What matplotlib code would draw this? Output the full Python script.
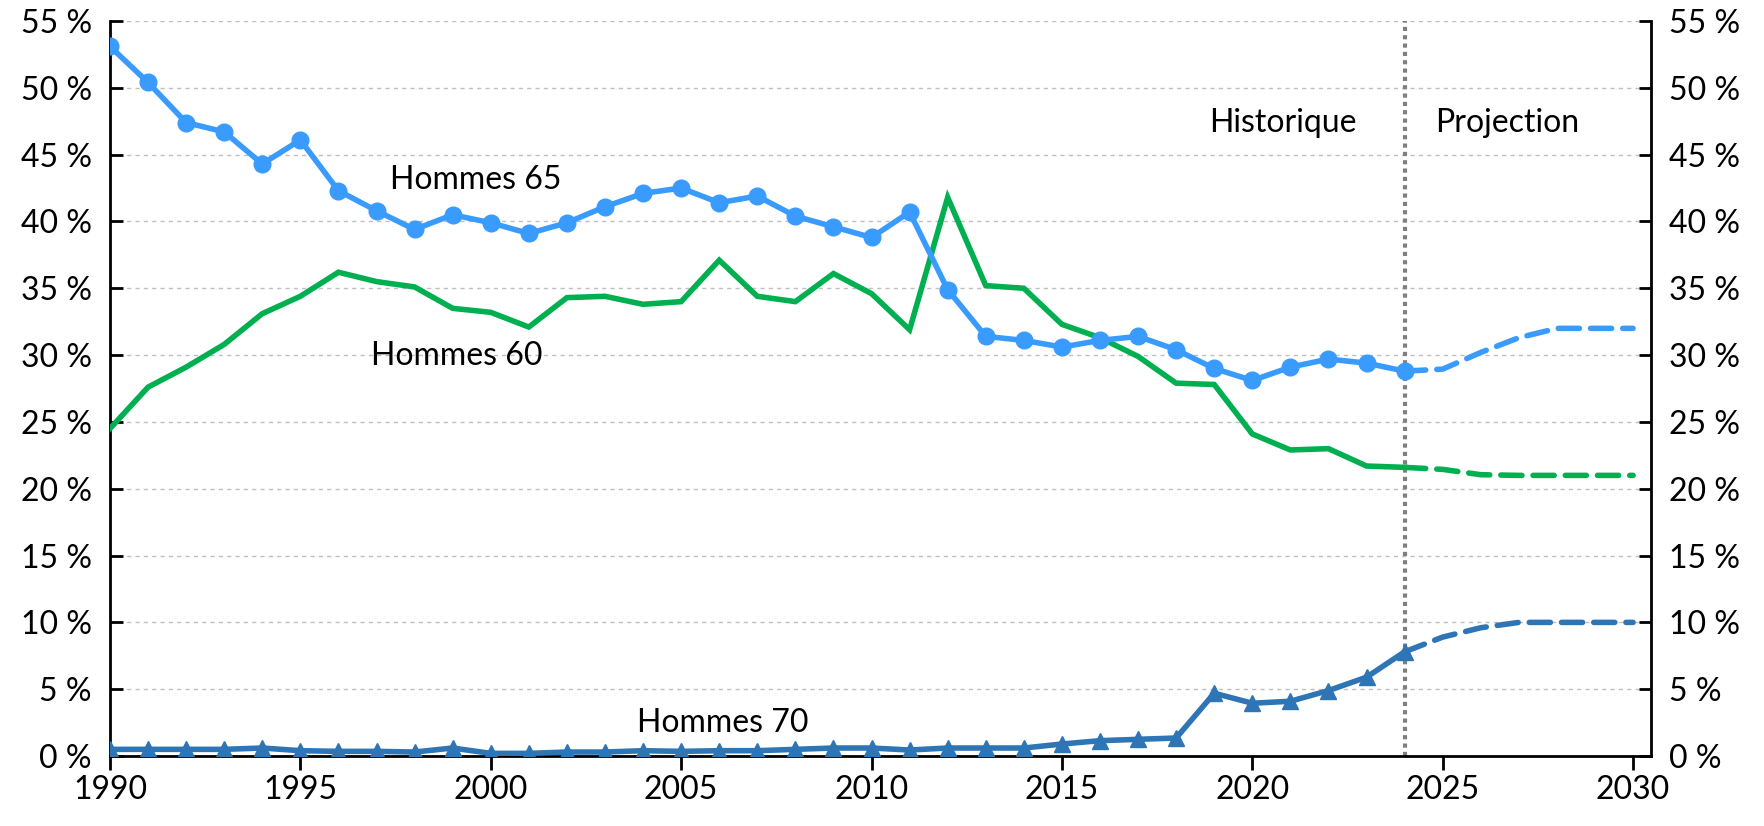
import matplotlib
matplotlib.use("Agg")
import matplotlib.pyplot as plt
from matplotlib.ticker import FuncFormatter

years_hist = list(range(1990, 2025))
years_proj = list(range(2024, 2031))

h65_hist = [53.1, 50.4, 47.4, 46.7, 44.3, 46.1, 42.3, 40.8, 39.4, 40.5,
            39.9, 39.1, 39.9, 41.1, 42.1, 42.5, 41.4, 41.9, 40.4, 39.6,
            38.8, 40.7, 34.9, 31.4, 31.1, 30.6, 31.1, 31.4, 30.4, 29.0,
            28.1, 29.1, 29.7, 29.4, 28.8]
h65_proj = [28.8, 28.95, 30.2, 31.3, 32.0, 32.0, 32.0]

h60_hist = [24.5, 27.6, 29.1, 30.8, 33.1, 34.4, 36.2, 35.5, 35.1, 33.5,
            33.2, 32.1, 34.3, 34.4, 33.8, 34.0, 37.1, 34.4, 34.0, 36.1,
            34.6, 31.9, 41.8, 35.2, 35.0, 32.3, 31.3, 29.9, 27.9, 27.8,
            24.1, 22.9, 23.0, 21.7, 21.6]
h60_proj = [21.6, 21.45, 21.05, 21.0, 21.0, 21.0, 21.0]

h70_hist = [0.5, 0.5, 0.5, 0.5, 0.6, 0.4, 0.35, 0.35, 0.3, 0.6,
            0.2, 0.2, 0.3, 0.3, 0.4, 0.35, 0.4, 0.4, 0.5, 0.6,
            0.6, 0.45, 0.6, 0.6, 0.6, 0.9, 1.15, 1.25, 1.35, 4.7,
            3.95, 4.1, 4.9, 5.9, 7.8]
h70_proj = [7.8, 8.9, 9.6, 10.0, 10.0, 10.0, 10.0]

c65 = "#3A9BFF"
c60 = "#00B050"
c70 = "#2E75B6"

FONT = ["Lato", "DejaVu Sans"]
plt.rcParams["font.family"] = FONT
FS = 23

fig = plt.figure(figsize=(17.65, 8.26), dpi=100)
ax = fig.add_axes([0.0623, 0.0847, 0.9354 - 0.0623, 0.9746 - 0.0847])

lw = 4.0
dash = (0, (3.8, 2.0))
ax.plot(years_hist, h60_hist, color=c60, lw=lw, solid_joinstyle="miter", zorder=3)
ax.plot(years_proj, h60_proj, color=c60, lw=lw, ls=dash, dash_capstyle="round", zorder=3)

ax.plot(years_hist, h65_hist, color=c65, lw=lw, marker="o", markersize=12, zorder=4)
ax.plot(years_proj, h65_proj, color=c65, lw=lw, ls=dash, dash_capstyle="round", zorder=4)

ax.plot(years_hist, h70_hist, color=c70, lw=lw, marker="^", markersize=12, zorder=4)
ax.plot(years_proj, h70_proj, color=c70, lw=lw, ls=dash, dash_capstyle="round", zorder=4)

ax.axvline(2024, ymin=0, ymax=1, color="#7F7F7F", lw=3, ls=(0, (1, 1)), zorder=2)

ax.set_xlim(1990, 2030.47)
ax.set_ylim(0, 55)
ax.set_xticks(range(1990, 2031, 5))
ax.set_yticks(range(0, 56, 5))
ax.yaxis.set_major_formatter(FuncFormatter(lambda v, p: f"{int(v)} %"))

ax.grid(axis="y", color="#BFBFBF", ls=(0, (3, 3)), lw=1)
ax.set_axisbelow(True)

for s in ["left", "right", "bottom"]:
    ax.spines[s].set_linewidth(2)
    ax.spines[s].set_color("black")
ax.spines["top"].set_visible(False)

ax.tick_params(axis="y", direction="in", length=9, width=2, labelsize=FS,
               left=True, right=True, labelleft=True, labelright=True, pad=13)
ax.tick_params(axis="x", direction="out", length=10, width=2, labelsize=FS, pad=4)

ax.text(1999.6, 43.1, "Hommes 65", fontsize=FS, ha="center", va="center")
ax.text(1999.1, 29.9, "Hommes 60", fontsize=FS, ha="center", va="center")
ax.text(2006.1, 2.5, "Hommes 70", fontsize=FS, ha="center", va="center")
ax.text(2020.8, 47.4, "Historique", fontsize=FS, ha="center", va="center")
ax.text(2026.7, 47.4, "Projection", fontsize=FS, ha="center", va="center")

fig.savefig("out.png", dpi=100)
